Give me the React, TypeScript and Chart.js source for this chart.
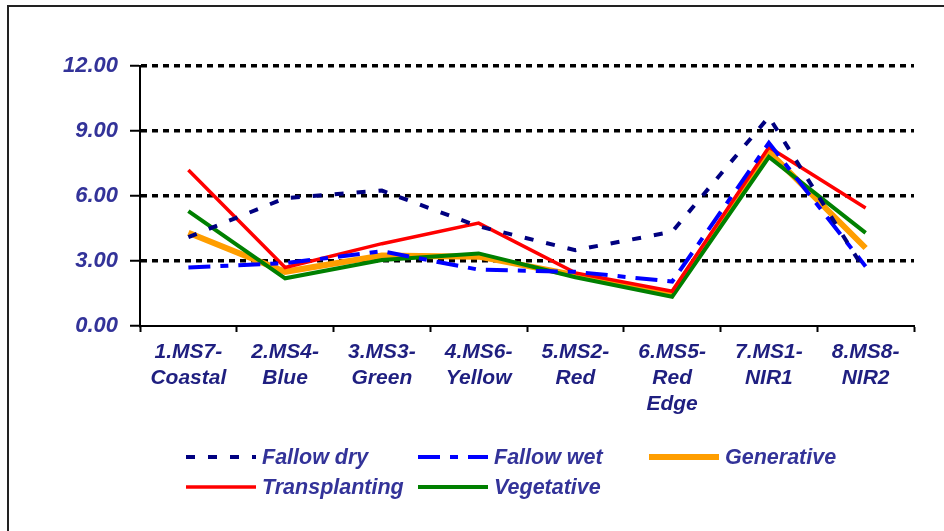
import React, { useEffect, useRef } from "react";
import { Chart, registerables } from "chart.js";

Chart.register(...registerables);

const categories: string[][] = [
  ["1.MS7-", "Coastal"],
  ["2.MS4-", "Blue"],
  ["3.MS3-", "Green"],
  ["4.MS6-", "Yellow"],
  ["5.MS2-", "Red"],
  ["6.MS5-", "Red", "Edge"],
  ["7.MS1-", "NIR1"],
  ["8.MS8-", "NIR2"],
];

const fallowDry = [4.1, 5.9, 6.25, 4.6, 3.5, 4.35, 9.65, 2.5];
const fallowWet = [2.7, 2.9, 3.45, 2.6, 2.5, 2.05, 8.45, 2.75];
const generative = [4.3, 2.5, 3.25, 3.2, 2.35, 1.5, 8.05, 3.6];
const transplanting = [7.2, 2.7, 3.8, 4.75, 2.45, 1.6, 8.25, 5.45];
const vegetative = [5.3, 2.2, 3.05, 3.35, 2.25, 1.35, 7.8, 4.3];

const yTicks = [0, 3, 6, 9, 12];

const TEXT = "#333399";
const FONT = "'Liberation Sans', Arial, sans-serif";

type Series = { label: string; data: number[]; color: string; width: number; dash: number[]; order: number };

const series: Series[] = [
  { label: "Fallow dry", data: fallowDry, color: "#000080", width: 4, dash: [9, 13], order: 0 },
  { label: "Fallow wet", data: fallowWet, color: "#0000FF", width: 4, dash: [22, 10, 8, 10], order: 1 },
  { label: "Generative", data: generative, color: "#FF9E00", width: 6, dash: [], order: 4 },
  { label: "Transplanting", data: transplanting, color: "#FF0000", width: 3.5, dash: [], order: 2 },
  { label: "Vegetative", data: vegetative, color: "#008000", width: 4, dash: [], order: 3 },
];

const legendPos = [
  { x: 186, y: 457 },
  { x: 418, y: 457 },
  { x: 649, y: 457 },
  { x: 186, y: 487 },
  { x: 418, y: 487 },
];

const framePlugin = {
  id: "frameAndLegend",
  beforeDraw(chart: any) {
    const ctx = chart.ctx;
    ctx.save();
    ctx.fillStyle = "#ffffff";
    ctx.fillRect(0, 0, chart.width, chart.height);
    ctx.fillStyle = "#222222";
    ctx.fillRect(7, 5, chart.width - 7, 2);
    ctx.fillRect(7, 5, 2, chart.height - 5);
    ctx.restore();
  },
  afterDraw(chart: any) {
    const ctx = chart.ctx;
    ctx.save();
    series.forEach((s, i) => {
      const p = legendPos[i];
      ctx.beginPath();
      ctx.strokeStyle = s.color;
      ctx.lineWidth = s.width;
      ctx.setLineDash(s.dash);
      ctx.moveTo(p.x, p.y);
      ctx.lineTo(p.x + 70, p.y);
      ctx.stroke();
      ctx.setLineDash([]);
      ctx.fillStyle = TEXT;
      ctx.font = `italic bold 21.5px ${FONT}`;
      ctx.textAlign = "left";
      ctx.textBaseline = "middle";
      ctx.fillText(s.label, p.x + 76, p.y + 1);
    });
    ctx.restore();
  },
};

export default function App() {
  const ref = useRef<HTMLCanvasElement | null>(null);

  useEffect(() => {
    if (!ref.current) return;
    const chart = new Chart(ref.current, {
      type: "line",
      data: {
        labels: categories as any,
        datasets: series.map((s) => ({
          label: s.label,
          data: s.data,
          borderColor: s.color,
          backgroundColor: s.color,
          borderWidth: s.width,
          borderDash: s.dash,
          pointRadius: 0,
          tension: 0,
          fill: false,
          order: s.order,
        })),
      },
      options: {
        responsive: false,
        animation: false,
        devicePixelRatio: 1,
        layout: { padding: { top: 66, right: 30, left: 0, bottom: 0 } },
        plugins: { legend: { display: false }, tooltip: { enabled: false }, title: { display: false } },
        scales: {
          x: {
            type: "category",
            offset: true,
            grid: {
              offset: true,
              drawOnChartArea: false,
              drawTicks: true,
              tickLength: 6,
              tickColor: "#000000",
              tickWidth: 2,
            },
            border: { display: true, color: "#000000", width: 2 },
            ticks: {
              color: "#1f1f80",
              font: { family: FONT, size: 21, style: "italic", weight: "bold", lineHeight: 1.25 },
              padding: 7,
              maxRotation: 0,
              autoSkip: false,
            },
            afterFit(scale: any) {
              scale.height = 205;
            },
          },
          y: {
            min: 0,
            max: 12,
            afterBuildTicks(scale: any) {
              scale.ticks = yTicks.map((v) => ({ value: v }));
            },
            grid: {
              color: (c: any) => (c.tick && c.tick.value === 0 ? "rgba(0,0,0,0)" : "#000000"),
              lineWidth: 3.5,
              drawTicks: true,
              tickLength: 10,
              tickColor: "#000000",
              tickWidth: 2,
            },
            border: { display: true, color: "#000000", width: 2, dash: [6, 5] },
            ticks: {
              color: TEXT,
              font: { family: FONT, size: 22, style: "italic", weight: "bold" },
              padding: 12,
              callback: (v: any) => Number(v).toFixed(2),
            },
            afterFit(scale: any) {
              scale.width = 140;
            },
          },
        },
      },
      plugins: [framePlugin],
    });
    return () => chart.destroy();
  }, []);

  return (
    <div style={{ position: "fixed", left: 0, top: 0, width: 944, height: 531 }}>
      <canvas ref={ref} width={944} height={531} style={{ width: 944, height: 531, display: "block" }} />
    </div>
  );
}
